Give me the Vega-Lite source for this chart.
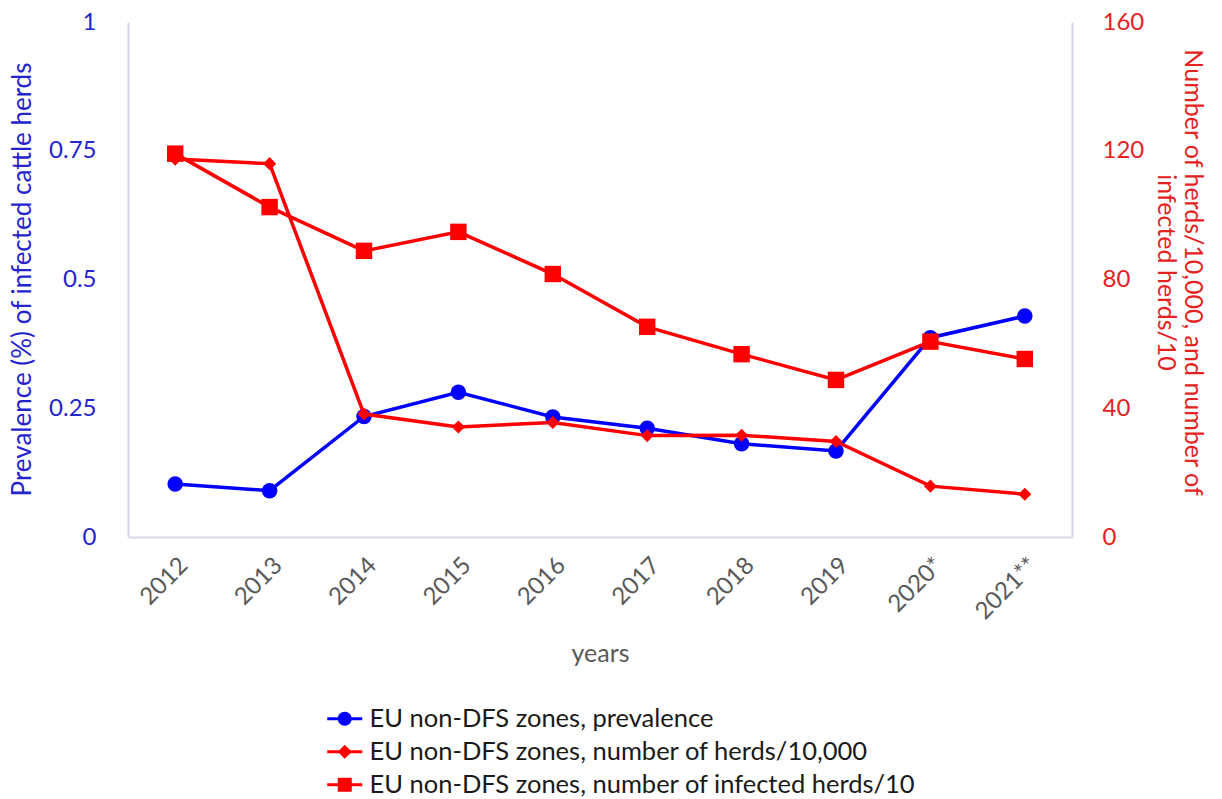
{
  "$schema": "https://vega.github.io/schema/vega-lite/v6.json",
  "autosize": "none",
  "width": 944,
  "height": 515,
  "padding": {"left": 128, "top": 22, "right": 150, "bottom": 262},
  "background": "white",
  "config": {
    "font": "Lato",
    "view": {"stroke": null},
    "axis": {"grid": false, "ticks": false, "domainColor": "#D5D8EA", "domainWidth": 2, "labelFont": "Lato", "titleFont": "Lato", "titleFontWeight": "normal"},
    "legend": {"labelFont": "Lato"}
  },
  "data": {
    "values": [
      {"year": "2012", "series": "EU non-DFS zones, prevalence", "value": 0.103},
      {"year": "2013", "series": "EU non-DFS zones, prevalence", "value": 0.090},
      {"year": "2014", "series": "EU non-DFS zones, prevalence", "value": 0.234},
      {"year": "2015", "series": "EU non-DFS zones, prevalence", "value": 0.281},
      {"year": "2016", "series": "EU non-DFS zones, prevalence", "value": 0.233},
      {"year": "2017", "series": "EU non-DFS zones, prevalence", "value": 0.211},
      {"year": "2018", "series": "EU non-DFS zones, prevalence", "value": 0.181},
      {"year": "2019", "series": "EU non-DFS zones, prevalence", "value": 0.167},
      {"year": "2020*", "series": "EU non-DFS zones, prevalence", "value": 0.387},
      {"year": "2021**", "series": "EU non-DFS zones, prevalence", "value": 0.429},
      {"year": "2012", "series": "EU non-DFS zones, number of herds/10,000", "value": 117.4},
      {"year": "2013", "series": "EU non-DFS zones, number of herds/10,000", "value": 116.0},
      {"year": "2014", "series": "EU non-DFS zones, number of herds/10,000", "value": 38.2},
      {"year": "2015", "series": "EU non-DFS zones, number of herds/10,000", "value": 34.2},
      {"year": "2016", "series": "EU non-DFS zones, number of herds/10,000", "value": 35.6},
      {"year": "2017", "series": "EU non-DFS zones, number of herds/10,000", "value": 31.5},
      {"year": "2018", "series": "EU non-DFS zones, number of herds/10,000", "value": 31.6},
      {"year": "2019", "series": "EU non-DFS zones, number of herds/10,000", "value": 29.7},
      {"year": "2020*", "series": "EU non-DFS zones, number of herds/10,000", "value": 15.8},
      {"year": "2021**", "series": "EU non-DFS zones, number of herds/10,000", "value": 13.3},
      {"year": "2012", "series": "EU non-DFS zones, number of infected herds/10", "value": 119.1},
      {"year": "2013", "series": "EU non-DFS zones, number of infected herds/10", "value": 102.5},
      {"year": "2014", "series": "EU non-DFS zones, number of infected herds/10", "value": 88.9},
      {"year": "2015", "series": "EU non-DFS zones, number of infected herds/10", "value": 94.8},
      {"year": "2016", "series": "EU non-DFS zones, number of infected herds/10", "value": 81.7},
      {"year": "2017", "series": "EU non-DFS zones, number of infected herds/10", "value": 65.3},
      {"year": "2018", "series": "EU non-DFS zones, number of infected herds/10", "value": 56.8},
      {"year": "2019", "series": "EU non-DFS zones, number of infected herds/10", "value": 48.8},
      {"year": "2020*", "series": "EU non-DFS zones, number of infected herds/10", "value": 60.7},
      {"year": "2021**", "series": "EU non-DFS zones, number of infected herds/10", "value": 55.3}
    ]
  },
  "encoding": {
    "x": {
      "field": "year", "type": "ordinal", "sort": null,
      "scale": {"type": "point", "padding": 0.5},
      "axis": {"title": "years", "labelAngle": -45, "labelFontSize": 24, "labelColor": "#595959", "labelPadding": 16, "titleFontSize": 25, "titleColor": "#595959", "titlePadding": 18}
    }
  },
  "layer": [
    {
      "transform": [{"filter": "datum.series === 'EU non-DFS zones, prevalence'"}],
      "encoding": {
        "y": {
          "field": "value", "type": "quantitative",
          "scale": {"domain": [0, 1], "nice": false, "zero": true},
          "axis": {"orient": "left", "values": [0, 0.25, 0.5, 0.75, 1], "format": ".2~f", "labelFontSize": 24, "labelColor": "#2424CF", "labelPadding": 32, "title": "Prevalence (%) of infected cattle herds", "titleFontSize": 26, "titleColor": "#2424CF", "titleX": -106, "titleY": 257, "titleAngle": -90, "titleBaseline": "middle", "titleAlign": "center"}
        },
        "color": {
          "field": "series", "type": "nominal",
          "scale": {"domain": ["EU non-DFS zones, prevalence", "EU non-DFS zones, number of herds/10,000", "EU non-DFS zones, number of infected herds/10"], "range": ["#0000FF", "#FF0000", "#FF0000"]},
          "legend": {
            "orient": "none", "legendX": 204, "legendY": 684, "direction": "vertical", "title": null,
            "labelFontSize": 25.5, "labelColor": "#1a1a1a", "symbolSize": 400, "labelOffset": 12, "rowPadding": 6,
            "labelLimit": 700,
            "symbolStrokeWidth": 0,
            "encode": {
              "symbols": {
                "update": {
                  "shape": {"signal": "datum.value === 'EU non-DFS zones, prevalence' ? 'M-1.75,-0.15H1.75V0.15H-1.75Z M-0.7,0A0.7,0.7,0,1,1,0.7,0A0.7,0.7,0,1,1,-0.7,0Z' : datum.value === 'EU non-DFS zones, number of herds/10,000' ? 'M-1.75,-0.15H1.75V0.15H-1.75Z M-0.7,0L0,-0.7L0.7,0L0,0.7Z' : 'M-1.75,-0.15H1.75V0.15H-1.75Z M-0.7,-0.7H0.7V0.7H-0.7Z'"},
                  "fill": {"signal": "datum.value === 'EU non-DFS zones, prevalence' ? '#0000FF' : '#FF0000'"},
                  "fillOpacity": {"value": 1},
                  "strokeWidth": {"value": 0}
                }
              }
            }
          }
        }
      },
      "layer": [
        {"mark": {"type": "line", "strokeWidth": 3.5}},
        {"mark": {"type": "point", "filled": true, "opacity": 1, "shape": "circle", "size": 240}}
      ]
    },
    {
      "transform": [{"filter": "datum.series !== 'EU non-DFS zones, prevalence'"}],
      "encoding": {
        "y": {
          "field": "value", "type": "quantitative",
          "scale": {"domain": [0, 160], "nice": false},
          "axis": {"orient": "right", "values": [0, 40, 80, 120, 160], "labelFontSize": 24, "labelColor": "#E52222", "labelPadding": 30, "title": ["Number of herds/10,000, and number of", "infected herds/10"], "titleFontSize": 25, "titleColor": "#E52222", "titleX": 132, "titleY": 250, "titleAngle": 90, "titleBaseline": "top", "titleAlign": "center", "titleLineHeight": 27}
        },
        "color": {"field": "series", "type": "nominal", "legend": null},
        "detail": {"field": "series"}
      },
      "layer": [
        {"mark": {"type": "line", "strokeWidth": 3.5}},
        {
          "mark": {"type": "point", "filled": true, "opacity": 1},
          "encoding": {
            "shape": {"field": "series", "type": "nominal", "scale": {"domain": ["EU non-DFS zones, number of herds/10,000", "EU non-DFS zones, number of infected herds/10"], "range": ["diamond", "square"]}, "legend": null},
            "size": {"field": "series", "type": "nominal", "scale": {"domain": ["EU non-DFS zones, number of herds/10,000", "EU non-DFS zones, number of infected herds/10"], "range": [170, 270]}, "legend": null}
          }
        }
      ]
    }
  ],
  "resolve": {"scale": {"y": "independent"}}
}
